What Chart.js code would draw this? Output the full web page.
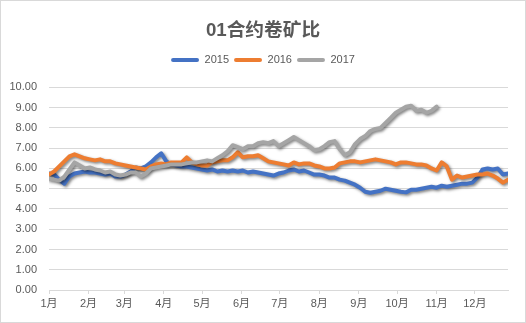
<!DOCTYPE html>
<html>
<head>
<meta charset="utf-8">
<script src="https://cdn.jsdelivr.net/npm/chart.js@4/dist/chart.umd.min.js"></script>
<style>
  html, body { margin: 0; padding: 0; background: #fff; }
  #wrap { width: 526px; height: 323px; }
</style>
</head>
<body>
<div id="wrap"><canvas id="ratioChart" width="526" height="323"></canvas></div>
<script>
// 01合约卷矿比 — 2015/2016/2017 by day of year
const monthStartDays = [1, 32, 60, 91, 121, 152, 182, 213, 244, 274, 305, 335];
const monthLabels = ['1月','2月','3月','4月','5月','6月','7月','8月','9月','10月','11月','12月'];

// sample days (day of year)
const sampleDays = [
  1, 5, 9, 13, 17, 21, 25, 29, 33, 37, 41, 45, 49, 53, 57, 61, 65, 69, 73, 77,
  81, 85, 89, 93, 97, 101, 105, 109, 113, 117, 121, 125, 129, 133, 137, 141, 145, 149, 153, 157,
  161, 165, 169, 173, 177, 181, 185, 189, 193, 197, 201, 205, 209, 213, 217, 221, 225, 229, 233, 237,
  241, 245, 249, 253, 257, 261, 265, 269, 273, 277, 281, 285, 289, 293, 297, 301, 305, 309, 313, 317,
  321, 325, 329, 333, 337, 341, 345, 349, 353, 357, 361
];

const ratio2015 = [
  5.75, 5.70, 5.45, 5.25, 5.60, 5.75, 5.80, 5.85, 5.80, 5.80, 5.75, 5.70, 5.75, 5.60, 5.60, 5.70, 5.85, 6.05, 6.00, 6.10,
  6.30, 6.55, 6.75, 6.35, 6.20, 6.15, 6.10, 6.10, 6.05, 6.00, 5.95, 5.90, 5.95, 5.85, 5.90, 5.85, 5.90, 5.85, 5.90, 5.80,
  5.85, 5.80, 5.75, 5.70, 5.65, 5.75, 5.80, 5.90, 5.95, 5.85, 5.90, 5.80, 5.70, 5.70, 5.65, 5.55, 5.55, 5.45, 5.40, 5.30,
  5.20, 5.05, 4.85, 4.80, 4.85, 4.90, 5.00, 4.95, 4.90, 4.85, 4.82, 4.95, 4.95, 5.00, 5.05, 5.10, 5.05, 5.15, 5.10, 5.15,
  5.20, 5.25, 5.25, 5.30, 5.55, 5.95, 6.00, 5.95, 6.00, 5.70, 5.75
];

const ratio2016 = [
  5.70, 5.85, 6.10, 6.35, 6.60, 6.70, 6.60, 6.50, 6.45, 6.40, 6.45, 6.35, 6.35, 6.25, 6.20, 6.15, 6.10, 6.05, 6.00, 5.95,
  6.10, 6.20, 6.25, 6.20, 6.30, 6.30, 6.30, 6.55, 6.30, 6.20, 6.15, 6.15, 6.30, 6.35, 6.40, 6.40, 6.55, 6.80, 6.55, 6.60,
  6.60, 6.65, 6.50, 6.35, 6.30, 6.25, 6.20, 6.15, 6.30, 6.20, 6.25, 6.25, 6.15, 6.10, 6.00, 6.00, 6.05, 6.25, 6.30, 6.35,
  6.35, 6.30, 6.35, 6.40, 6.45, 6.40, 6.35, 6.30, 6.20, 6.30, 6.30, 6.25, 6.20, 6.20, 6.15, 6.00, 5.90, 6.30, 6.10, 5.45,
  5.65, 5.55, 5.60, 5.65, 5.70, 5.70, 5.75, 5.65, 5.50, 5.30, 5.45
];

// 2017 runs to early November
const ratio2017 = [
  5.50, 5.45, 5.40, 5.60, 5.95, 6.30, 6.15, 6.00, 6.05, 5.95, 5.90, 5.80, 5.85, 5.70, 5.65, 5.70, 5.80, 5.80, 5.60, 5.75,
  6.00, 6.05, 6.10, 6.15, 6.20, 6.20, 6.20, 6.25, 6.30, 6.30, 6.35, 6.40, 6.35, 6.50, 6.65, 6.85, 7.15, 7.05, 6.95, 7.10,
  7.10, 7.25, 7.30, 7.25, 7.35, 7.10, 7.25, 7.40, 7.55, 7.40, 7.25, 7.10, 6.90, 6.95, 7.10, 7.30, 7.35, 6.95, 6.65, 6.80,
  7.20, 7.45, 7.60, 7.85, 7.95, 8.00, 8.25, 8.50, 8.75, 8.90, 9.05, 9.10, 8.85, 8.90, 8.75, 8.85, 9.05
];

const seriesNames = ['2015', '2016', '2017'];
const seriesColors = ['#4472C4', '#ED7D31', '#A5A5A5'];
const seriesValues = [ratio2015, ratio2016, ratio2017];

const textColor = '#595959';
const gridColor = '#D9D9D9';
const fontFamily = '"Liberation Sans", "Noto Sans CJK SC", sans-serif';

function toPoints(values) {
  return values.map((v, i) => ({ x: sampleDays[i], y: v }));
}

// white background and thin frame round the chart area
const frame = {
  id: 'frame',
  beforeDraw(chart) {
    const ctx = chart.ctx;
    ctx.save();
    ctx.fillStyle = '#fff';
    ctx.fillRect(0, 0, chart.width, chart.height);
    ctx.strokeStyle = gridColor;
    ctx.lineWidth = 1;
    ctx.strokeRect(0.5, 0.5, chart.width - 1, chart.height - 1);
    ctx.restore();
  }
};

// extra room between legend and plot
const legendGap = {
  id: 'legendGap',
  beforeInit(chart) {
    const fit = chart.legend.fit;
    chart.legend.fit = function () {
      fit.call(this);
      this.height += 12;
    };
  }
};

// soft drop shadow under the lines
const lineShadow = {
  id: 'lineShadow',
  beforeDatasetsDraw(chart) {
    const ctx = chart.ctx;
    ctx.save();
    ctx.shadowColor = 'rgba(0,0,0,0.5)';
    ctx.shadowBlur = 3;
    ctx.shadowOffsetX = 1.5;
    ctx.shadowOffsetY = 1.5;
  },
  afterDatasetsDraw(chart) {
    chart.ctx.restore();
  }
};

new Chart(document.getElementById('ratioChart'), {
  type: 'line',
  data: {
    datasets: seriesNames.map((name, i) => ({
      label: name,
      data: toPoints(seriesValues[i]),
      borderColor: seriesColors[i],
      backgroundColor: seriesColors[i],
      borderWidth: 4,
      pointRadius: 0,
      tension: 0,
      borderJoinStyle: 'round',
      borderCapStyle: 'round',
      order: seriesNames.length - i
    }))
  },
  options: {
    responsive: false,
    animation: false,
    events: [],
    layout: { padding: 0 },
    plugins: {
      title: {
        display: true,
        text: '01合约卷矿比',
        color: textColor,
        font: { family: fontFamily, size: 18.7, weight: 'bold' },
        padding: { top: 20, bottom: 7 }
      },
      legend: {
        position: 'top',
        labels: {
          color: textColor,
          font: { family: fontFamily, size: 11 },
          boxWidth: 28,
          boxHeight: 4,
          padding: 5,
          useBorderRadius: true,
          borderRadius: 2,
          sort: (a, b) => a.datasetIndex - b.datasetIndex,
          generateLabels(chart) {
            const items = Chart.defaults.plugins.legend.labels.generateLabels(chart);
            items.forEach(it => { it.lineWidth = 0; it.fillStyle = it.strokeStyle; });
            return items;
          }
        }
      },
      tooltip: { enabled: false }
    },
    scales: {
      x: {
        type: 'linear',
        min: 1,
        max: 361,
        afterBuildTicks(scale) {
          scale.ticks = monthStartDays.map(v => ({ value: v }));
        },
        afterFit(scale) { scale.height = 33; },
        ticks: {
          color: textColor,
          font: { family: fontFamily, size: 11 },
          padding: 3,
          maxRotation: 0,
          autoSkip: false,
          callback: (v) => monthLabels[monthStartDays.indexOf(v)]
        },
        grid: { drawOnChartArea: false, drawTicks: true, tickLength: 4, color: gridColor },
        border: { display: true, color: gridColor }
      },
      y: {
        min: 0,
        max: 10,
        afterFit(scale) { scale.width = 49; },
        ticks: {
          stepSize: 1,
          color: textColor,
          font: { family: fontFamily, size: 11 },
          padding: 12,
          callback: (v) => v.toFixed(2)
        },
        grid: { color: gridColor, drawTicks: false },
        border: { display: false }
      },
      // empty right-hand margin beside the plot
      yRight: {
        position: 'right',
        min: 0,
        max: 10,
        afterFit(scale) { scale.width = 18; },
        ticks: { display: false },
        grid: { display: false },
        border: { display: false }
      }
    }
  },
  plugins: [frame, legendGap, lineShadow]
});
</script>
</body>
</html>
